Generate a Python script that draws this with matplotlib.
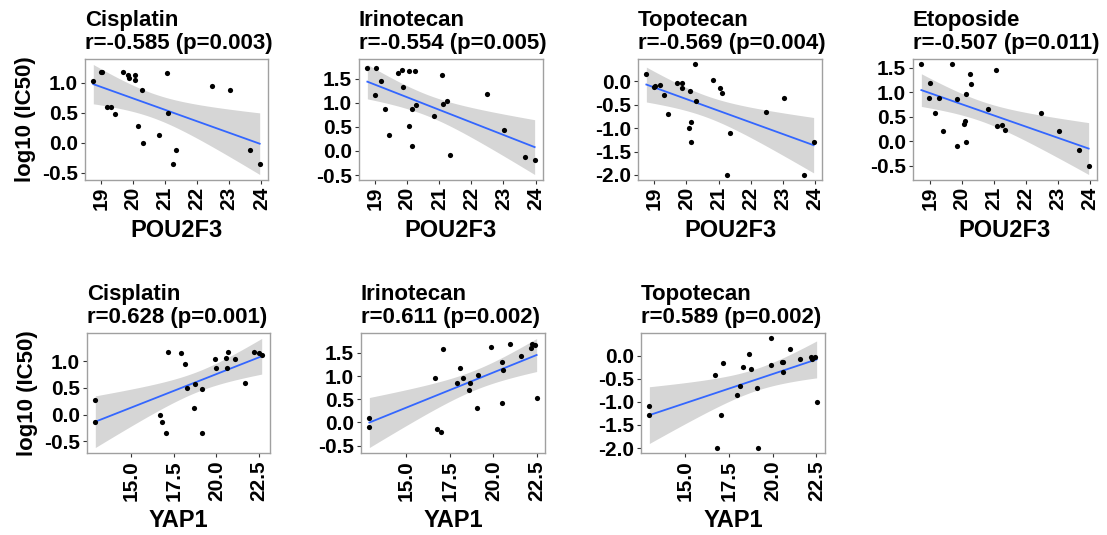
import numpy as np
import matplotlib.pyplot as plt

plt.rcParams['font.family'] = ['Liberation Sans', 'DejaVu Sans']
plt.rcParams['font.weight'] = 'bold'

# POU2F3 expression vs log10(IC50)
cis_pou_x = [18.77, 19.00, 19.03, 19.19, 19.31, 19.45, 19.70, 19.86, 19.88, 20.08, 20.08, 20.15,
             20.28, 20.31, 20.83, 21.06, 21.10, 21.26, 21.34, 22.48, 23.02, 23.65, 23.95]
cis_pou_y = [1.03, 1.18, 1.18, 0.59, 0.59, 0.47, 1.18, 1.12, 1.07, 1.13, 1.04, 0.27,
             0.88, -0.01, 0.12, 1.16, 0.50, -0.35, -0.13, 0.94, 0.88, -0.13, -0.35]

iri_pou_x = [18.76, 19.03, 19.00, 19.18, 19.30, 19.43, 19.70, 19.84, 19.88, 20.07, 20.07, 20.15,
             20.16, 20.25, 20.29, 20.82, 21.08, 21.11, 21.25, 21.34, 22.49, 23.03, 23.67, 23.97]
iri_pou_y = [1.71, 1.71, 1.15, 1.45, 0.87, 0.32, 1.62, 1.67, 1.32, 1.65, 0.52, 0.87,
             0.10, 1.65, 0.96, 0.72, 1.58, 0.97, 1.03, -0.08, 1.18, 0.44, -0.13, -0.19]

top_pou_x = [18.76, 19.00, 19.04, 19.18, 19.30, 19.44, 19.72, 19.86, 19.88, 20.10, 20.07, 20.13,
             20.14, 20.27, 20.30, 20.83, 21.06, 21.10, 21.26, 21.34, 22.46, 23.02, 23.65, 23.95]
top_pou_y = [0.15, -0.13, -0.09, -0.08, -0.29, -0.70, -0.04, -0.03, -0.14, -0.20, -1.00, -0.86,
             -1.30, 0.36, -0.42, 0.03, -0.15, -0.25, -1.99, -1.10, -0.66, -0.35, -1.99, -1.30]

eto_pou_x = [18.73, 19.00, 18.97, 19.17, 19.28, 19.42, 19.69, 19.84, 19.84, 20.08, 20.07, 20.11,
             20.13, 20.25, 20.28, 20.81, 21.05, 21.08, 21.24, 21.33, 22.47, 23.01, 23.64, 23.95]
eto_pou_y = [1.57, 1.20, 0.89, 0.57, 0.88, 0.21, 1.57, 0.86, -0.09, 0.42, 0.36, 0.97,
             -0.02, 1.38, 1.18, 0.66, 1.45, 0.30, 0.34, 0.23, 0.57, 0.21, -0.18, -0.52]

# YAP1 expression vs log10(IC50)
cis_yap_x = [12.88, 12.88, 16.69, 16.79, 17.02, 17.17, 17.93, 18.13, 18.30, 18.71, 18.75, 19.14,
             19.16, 19.95, 19.97, 20.57, 20.61, 20.67, 21.08, 21.66, 22.24, 22.50, 22.67]
cis_yap_y = [0.27, -0.13, -0.01, -0.13, -0.35, 1.17, 1.15, 0.95, 0.50, 0.12, 0.58, 0.48,
             -0.35, 1.05, 0.88, 1.07, 0.88, 1.18, 1.04, 0.59, 1.18, 1.16, 1.12]

iri_yap_x = [12.90, 12.90, 16.68, 16.80, 17.02, 17.14, 17.91, 18.08, 18.25, 18.63, 18.69, 19.07,
             19.13, 19.87, 20.48, 20.52, 20.58, 20.98, 21.56, 22.15, 22.21, 22.38, 22.48]
iri_yap_y = [0.09, -0.10, 0.96, -0.14, -0.21, 1.58, 0.86, 1.18, 0.96, 0.71, 0.86, 0.31,
             1.02, 1.64, 1.31, 0.42, 1.14, 1.70, 1.44, 1.61, 1.70, 1.67, 0.52]

top_yap_x = [12.93, 12.93, 16.70, 16.82, 17.05, 17.18, 17.94, 18.15, 18.28, 18.67, 18.75, 19.11,
             19.15, 19.91, 19.91, 20.52, 20.60, 20.58, 21.02, 21.58, 22.19, 22.25, 22.40, 22.52]
top_yap_y = [-1.10, -1.29, -0.42, -1.99, -1.29, -0.16, -0.86, -0.66, -0.24, 0.04, -0.29, -0.70,
             -1.99, 0.37, -0.20, -0.13, -0.13, -0.36, 0.15, -0.08, -0.04, -0.07, -0.03, -1.00]

pou_ticks = [19, 20, 21, 22, 23, 24]
yap_ticks = [15.0, 17.5, 20.0, 22.5]

panels = [
    # (x, y, drug, r, p, gene, xticks, yticks, box in px: left, top, right, bottom)
    (cis_pou_x, cis_pou_y, 'Cisplatin', '-0.585', '0.003', 'POU2F3', pou_ticks,
     [-0.5, 0.0, 0.5, 1.0], (85, 59, 268, 180)),
    (iri_pou_x, iri_pou_y, 'Irinotecan', '-0.554', '0.005', 'POU2F3', pou_ticks,
     [-0.5, 0.0, 0.5, 1.0, 1.5], (359, 59, 543, 180)),
    (top_pou_x, top_pou_y, 'Topotecan', '-0.569', '0.004', 'POU2F3', pou_ticks,
     [-2.0, -1.5, -1.0, -0.5, 0.0], (638, 59, 822, 180)),
    (eto_pou_x, eto_pou_y, 'Etoposide', '-0.507', '0.011', 'POU2F3', pou_ticks,
     [-0.5, 0.0, 0.5, 1.0, 1.5], (913, 59, 1097, 180)),
    (cis_yap_x, cis_yap_y, 'Cisplatin', '0.628', '0.001', 'YAP1', yap_ticks,
     [-0.5, 0.0, 0.5, 1.0], (87, 333, 270, 453)),
    (iri_yap_x, iri_yap_y, 'Irinotecan', '0.611', '0.002', 'YAP1', yap_ticks,
     [-0.5, 0.0, 0.5, 1.0, 1.5], (361, 333, 545, 453)),
    (top_yap_x, top_yap_y, 'Topotecan', '0.589', '0.002', 'YAP1', yap_ticks,
     [-2.0, -1.5, -1.0, -0.5, 0.0], (641, 333, 825, 453)),
]

W, H = 1107, 535
T_CRIT = 2.08  # two-sided 95% t quantile, ~21 df


def lm_band(x, y, n=80):
    x = np.asarray(x)
    y = np.asarray(y)
    slope, icpt = np.polyfit(x, y, 1)
    xs = np.linspace(x.min(), x.max(), n)
    fit = icpt + slope * xs
    resid = y - (icpt + slope * x)
    dof = len(x) - 2
    s = np.sqrt(np.sum(resid ** 2) / dof)
    se = s * np.sqrt(1 / len(x) + (xs - x.mean()) ** 2 / np.sum((x - x.mean()) ** 2))
    return xs, fit, fit - T_CRIT * se, fit + T_CRIT * se


fig = plt.figure(figsize=(W / 100, H / 100), dpi=100)

for i, (x, y, drug, r, p, gene, xt, yt, box) in enumerate(panels):
    l, t, rgt, b = box
    ax = fig.add_axes([l / W, 1 - b / H, (rgt - l) / W, (b - t) / H])
    xs, fit, lo, hi = lm_band(x, y)
    ax.fill_between(xs, lo, hi, color='#999999', alpha=0.4, linewidth=0)
    ax.plot(xs, fit, color='#3366FF', linewidth=1.3)
    ax.scatter(x, y, s=14, color='black', zorder=3, linewidths=0)

    xmin, xmax = min(x), max(x)
    ymin, ymax = min(min(y), lo.min()), max(max(y), hi.max())
    ax.set_xlim(xmin - 0.05 * (xmax - xmin), xmax + 0.05 * (xmax - xmin))
    ax.set_ylim(ymin - 0.05 * (ymax - ymin), ymax + 0.05 * (ymax - ymin))

    ax.set_xticks(xt)
    ax.set_xticklabels([f'{v:g}' if gene == 'POU2F3' else f'{v:.1f}' for v in xt],
                       rotation=90, fontsize=15, fontweight='bold')
    ax.set_yticks(yt)
    ax.set_yticklabels([f'{v:.1f}' for v in yt], fontsize=15, fontweight='bold')
    ax.tick_params(length=3, width=0.8, color='#333333', pad=2)
    for sp in ax.spines.values():
        sp.set_color('#a0a0a0')
        sp.set_linewidth(1.0)

    ax.set_title(f'{drug}\nr={r} (p={p})', loc='left', fontsize=16, fontweight='bold',
                 pad=7, linespacing=1.15)
    ax.set_xlabel(gene, fontsize=17, fontweight='bold', labelpad=6)
    if i in (0, 4):
        ax.set_ylabel('log10 (IC50)', fontsize=16, fontweight='bold', labelpad=4)

fig.savefig('out.png', dpi=100)
